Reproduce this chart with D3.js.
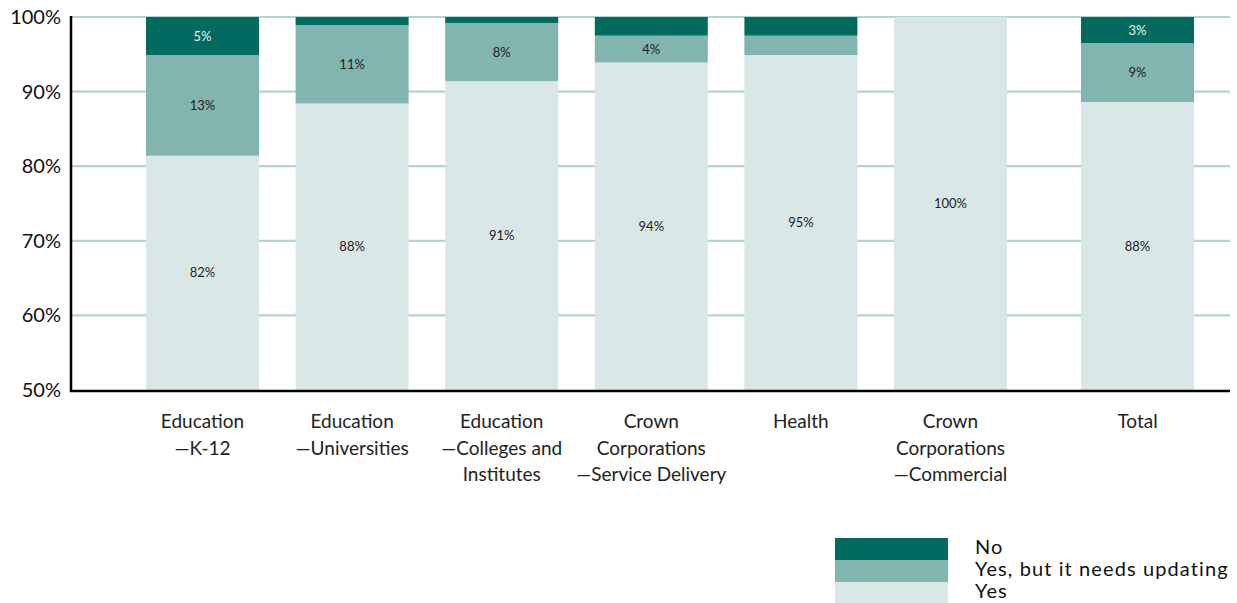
<!DOCTYPE html>
<html><head><meta charset="utf-8">
<script src="https://cdn.jsdelivr.net/npm/d3@7"></script>
<style>
html,body{margin:0;padding:0;background:#fff;}
svg text{font-family:"Lato","Open Sans",sans-serif;}
</style></head>
<body><svg id="chart" width="1237" height="603"></svg>
<script>
const categories = [
  ["Education", "\u2014K-12"],
  ["Education", "\u2014Universities"],
  ["Education", "\u2014Colleges and", "Institutes"],
  ["Crown", "Corporations", "\u2014Service Delivery"],
  ["Health"],
  ["Crown", "Corporations", "\u2014Commercial"],
  ["Total"]
];
const slots = [0, 1, 2, 3, 4, 5, 6.25];
const yesValues      = [81.4, 88.4, 91.4, 93.9, 94.9, 100, 88.6];
const updatingValues = [13.5, 10.5, 7.8, 3.6, 2.6, 0, 7.9];
const noValues       = [5.1, 1.1, 0.8, 2.5, 2.5, 0, 3.5];
const yesLabels      = ["82%", "88%", "91%", "94%", "95%", "100%", "88%"];
const updatingLabels = ["13%", "11%", "8%", "4%", "", "", "9%"];
const noLabels       = ["5%", "", "", "", "", "", "3%"];
const yTicks = [50, 60, 70, 80, 90, 100];
const seriesNames = ["No", "Yes, but it needs updating", "Yes"];

const colors = {No: "#016b60", Upd: "#82b5b0", Yes: "#d9e8e7"};
const svg = d3.select("#chart");

const y = d3.scaleLinear().domain([50, 100]).range([390, 17]);
const x = d3.scaleLinear().domain([0, 5]).range([202.5, 950.5]);
const barW = 113;

// gridlines
svg.append("g").selectAll("line").data(yTicks.filter(t => t > 50)).join("line")
  .attr("x1", 71).attr("x2", 1230)
  .attr("y1", d => y(d)).attr("y2", d => y(d))
  .attr("stroke", "#b3d5d1").attr("stroke-width", 2.2);

// stacked bars
const rows = categories.map((c, i) => ({i, yes: yesValues[i], upd: updatingValues[i], no: noValues[i]}));
const stacked = d3.stack().keys(["yes", "upd", "no"])(rows);
const keyColor = {yes: colors.Yes, upd: colors.Upd, no: colors.No};
const keyLabels = {yes: yesLabels, upd: updatingLabels, no: noLabels};
const keyText = {yes: "#222", upd: "#222", no: "#e8f1ef"};

stacked.forEach(s => {
  const g = svg.append("g");
  g.selectAll("rect").data(s).join("rect")
    .attr("x", (d, i) => x(slots[i]) - barW / 2)
    .attr("width", barW)
    .attr("y", d => y(Math.min(100, d[1])))
    .attr("height", d => Math.max(0, y(Math.max(50, d[0])) - y(Math.min(100, d[1]))))
    .attr("fill", keyColor[s.key]);
  g.selectAll("text").data(s).join("text")
    .attr("x", (d, i) => x(slots[i]))
    .attr("y", d => (y(Math.max(50, d[0])) + y(Math.min(100, d[1]))) / 2)
    .attr("dy", "0.35em")
    .attr("text-anchor", "middle")
    .attr("font-size", 13)
    .attr("fill", keyText[s.key])
    .text((d, i) => keyLabels[s.key][i]);
});

// axes lines
svg.append("line").attr("x1", 71).attr("x2", 71).attr("y1", 16).attr("y2", 392)
  .attr("stroke", "#000").attr("stroke-width", 2.5);
svg.append("line").attr("x1", 70).attr("x2", 1230).attr("y1", 391).attr("y2", 391)
  .attr("stroke", "#000").attr("stroke-width", 2.5);

// y tick labels
const yAxis = d3.axisLeft(y).tickValues(yTicks).tickFormat(d => d + "%").tickSize(0).tickPadding(10);
const ya = svg.append("g").attr("transform", "translate(71,0)").call(yAxis);
ya.select(".domain").remove();
ya.selectAll("text").attr("font-size", 20).attr("fill", "#111").attr("font-family", "Lato, 'Open Sans', sans-serif");

// category labels
categories.forEach((lines, i) => {
  const t = svg.append("text").attr("text-anchor", "middle").attr("font-size", 19).attr("fill", "#222");
  lines.forEach((ln, j) => {
    t.append("tspan").attr("x", x(slots[i])).attr("y", 428 + j * 26.5).text(ln);
  });
});

// legend
const legColors = [colors.No, colors.Upd, colors.Yes];
seriesNames.forEach((n, i) => {
  svg.append("rect").attr("x", 835).attr("y", 538 + i * 22).attr("width", 113).attr("height", 22).attr("fill", legColors[i]);
  svg.append("text").attr("x", 975).attr("y", 547 + i * 22).attr("dy", "0.35em")
    .attr("font-size", 20).attr("letter-spacing", 1.1).attr("fill", "#111").text(n);
});
</script></body></html>
